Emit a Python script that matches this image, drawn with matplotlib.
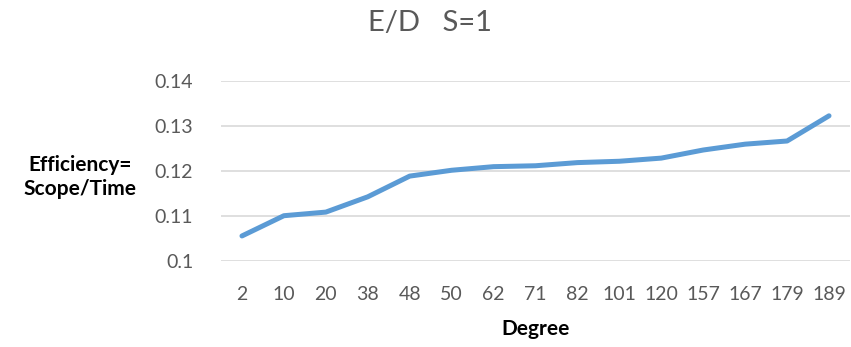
import matplotlib.pyplot as plt

degrees = ['2', '10', '20', '38', '48', '50', '62', '71', '82', '101', '120', '157', '167', '179', '189']
efficiency = [0.1055, 0.1100, 0.1108, 0.1142, 0.1188, 0.1201, 0.1209, 0.1211, 0.1218, 0.1221, 0.1228,
              0.1246, 0.1259, 0.1266, 0.1322]
yticks = [0.1, 0.11, 0.12, 0.13, 0.14]
ytick_labels = ['0.1', '0.11', '0.12', '0.13', '0.14']

plt.rcParams['font.family'] = ['Lato', 'DejaVu Sans']

fig = plt.figure(figsize=(8.51, 3.47), dpi=100)
ax = fig.add_axes([0.2597, 0.2487, 0.7391, 0.5187])

ax.plot(range(len(degrees)), efficiency, color='#5B9BD5', linewidth=3.6, solid_capstyle='round')

ax.set_xlim(-0.5, len(degrees) - 0.5)
ax.set_ylim(0.1, 0.14)
ax.set_yticks(yticks)
ax.set_yticklabels(ytick_labels)
ax.set_xticks(range(len(degrees)))
ax.set_xticklabels(degrees)
ax.grid(axis='y', color='#D9D9D9', linewidth=1.2)
ax.set_axisbelow(True)
for s in ax.spines.values():
    s.set_visible(False)
ax.tick_params(axis='both', length=0, labelsize=14, labelcolor='#595959')
ax.tick_params(axis='x', pad=18)
ax.tick_params(axis='y', pad=20)

ax.set_xlabel('Degree', fontsize=15, fontweight='bold', labelpad=12)
fig.text(0.094, 0.49, 'Efficiency=\nScope/Time', fontsize=15, fontweight='bold', ha='center', va='center',
         linespacing=1.2)
fig.text(0.505, 0.935, 'E/D   S=1', fontsize=21, color='#595959', ha='center', va='center')

fig.savefig('out.png', dpi=100)
